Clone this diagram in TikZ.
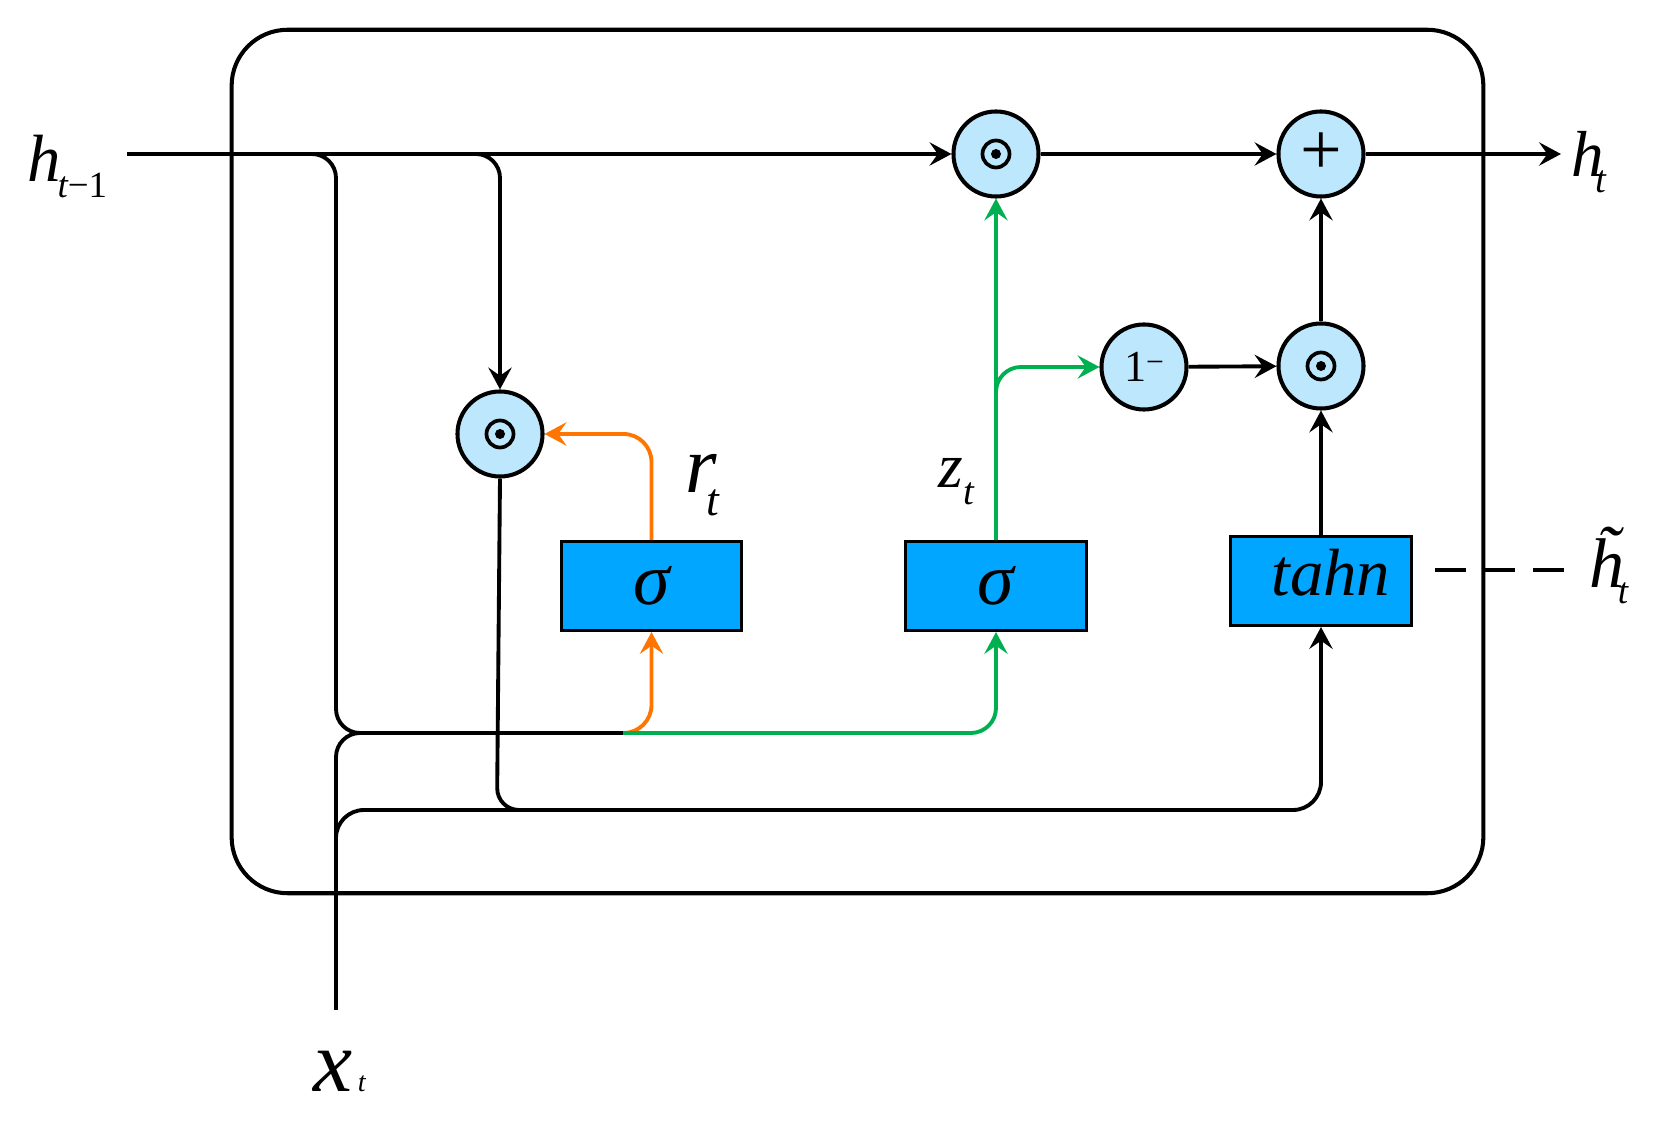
\documentclass[tikz,border=0pt]{standalone}
\usepackage{fontspec}
\setmainfont{Liberation Serif}
\usetikzlibrary{arrows.meta}
\definecolor{boxblue}{RGB}{0,166,255}
\definecolor{circblue}{RGB}{189,231,252}
\definecolor{gatgreen}{RGB}{0,176,80}
\definecolor{gatorange}{RGB}{255,117,0}
\newcommand\myfs[1]{\fontsize{#1}{#1}\selectfont}
\begin{document}
\begin{tikzpicture}[x=0.01cm,y=-0.01cm,
  conn/.style={line width=1.1pt},
  arr/.style={-{Stealth[length=6.2pt,width=6.6pt,inset=2.3pt]}},
  opnode/.style={circle,draw,line width=1.15pt,fill=circblue,minimum size=0.85cm,inner sep=0pt},
  hadamard/.style={opnode,path picture={
      \draw[black,line width=1.05pt] (path picture bounding box.center) circle (0.135cm);
      \fill[black] (path picture bounding box.center) circle (0.05cm);}},
  gatebox/.style={draw,line width=0.85pt,fill=boxblue,minimum width=1.80cm,minimum height=0.89cm,inner sep=0pt},
  lbl/.style={inner sep=0pt,anchor=base west}]
\useasboundingbox (0,0) rectangle (1662,1128);
% outer cell
\node[draw,line width=1.15pt,rounded corners=0.56cm,minimum width=12.51cm,minimum height=8.63cm,inner sep=0pt] (cell) at (857.5,461.5) {};
% operation nodes
\node[hadamard] (m1) at (996,154) {};
\node[opnode] (plus) at (1321,154) {\myfs{21}+};
\node[hadamard] (m2) at (500,434) {};
\node[opnode] (one) at (1144,367) {\myfs{12.6}1\raisebox{2.5pt}{\myfs{9}−}};
\node[hadamard] (m3) at (1321,366) {};
\node[gatebox] (s1) at (651.5,586) {\myfs{21}\itshape σ};
\node[gatebox] (s2) at (996,586) {\myfs{21}\itshape σ};
\node[gatebox] (th) at (1321,581) {};
\node[anchor=base,inner sep=0pt] (thtxt) at (1331,596) {\myfs{19}\itshape tahn};
% coordinates
\coordinate (hin) at (127,154);
\coordinate (hout) at (1561,154);
\coordinate (b1s) at (300,154);
\coordinate (b1) at (336,154);
\coordinate (b1d) at (336,733);
\coordinate (j1) at (623,733);
\coordinate (jo) at (651.5,733);
\coordinate (jg) at (996,733);
\coordinate (xin) at (336,1010);
\coordinate (xj) at (336,733);
\coordinate (xje) at (380,733);
\coordinate (xb) at (336,810);
\coordinate (xbr) at (1321,810);
\coordinate (b2s) at (460,154);
\coordinate (b2) at (500,154);
\coordinate (m2d) at (497,810);
\coordinate (m2de) at (540,810);
\coordinate (ro) at (651.5,434);
\coordinate (gs) at (996,420);
\coordinate (gb) at (996,367);
\coordinate (d1) at (1435,570);
\coordinate (d2) at (1566,570);
% main line
\draw[conn,arr] (hin) -- (m1);
\draw[conn,arr] (m1) -- (plus);
\draw[conn,arr] (plus) -- (hout);
% h_{t-1} branch to gates
\draw[conn,rounded corners=0.24cm] (b1s) -- (b1) -- (b1d) -- (j1);
\draw[conn,gatorange,arr,rounded corners=0.28cm] (j1) -- (jo) -- (s1.south);
\draw[conn,gatgreen,arr,rounded corners=0.25cm] (j1) -- (jg) -- (s2.south);
% x_t
\draw[conn,rounded corners=0.24cm] (xin) -- (xj) -- (xje);
\draw[conn,arr,rounded corners=0.28cm] (xin) -- (xb) -- (xbr) -- (th.south);
% h_{t-1} branch to reset product
\draw[conn,arr,rounded corners=0.24cm] (b2s) -- (b2) -- (m2);
\draw[conn,rounded corners=0.22cm] (m2.south) -- (m2d) -- (m2de);
% reset gate output
\draw[conn,gatorange,arr,rounded corners=0.28cm] (s1.north) -- (ro) -- (m2);
% update gate output
\draw[conn,gatgreen,arr] (s2.north) -- (m1.south);
\draw[conn,gatgreen,arr,rounded corners=0.25cm] (gs) -- (gb) -- (one);
\draw[conn,arr] (one) -- (m3);
\draw[conn,arr] (th.north) -- (m3);
\draw[conn,arr] (m3) -- (plus);
% candidate dashed
\draw[line width=1.15pt,dash pattern=on 0.31cm off 0.18cm] (d1) -- (d2);
% labels
\node[lbl] (lhprev) at (27,182) {\myfs{19}\itshape h\kern-1pt\raisebox{-4.5pt}{\myfs{10.5}t\upshape −1}};
\node[lbl] (lhout) at (1571,177) {\myfs{18.5}\itshape h\kern-2.5pt\raisebox{-4.5pt}{\myfs{11}t}};
\node[lbl] (lhtil) at (1589,588) {\myfs{20}\itshape \~{h}\kern-2pt\raisebox{-4.3pt}{\myfs{10.5}t}};
\node[lbl] (lr) at (685,493) {\myfs{23}\itshape r\kern-3pt\raisebox{-6.3pt}{\myfs{13}t}};
\node[lbl] (lz) at (938,488) {\myfs{18}\itshape z\raisebox{-4.8pt}{\myfs{11}t}};
\node[lbl] (lx) at (313,1092) {\myfs{25}\itshape x\kern1.5pt{\myfs{8}t}};
\end{tikzpicture}
\end{document}
